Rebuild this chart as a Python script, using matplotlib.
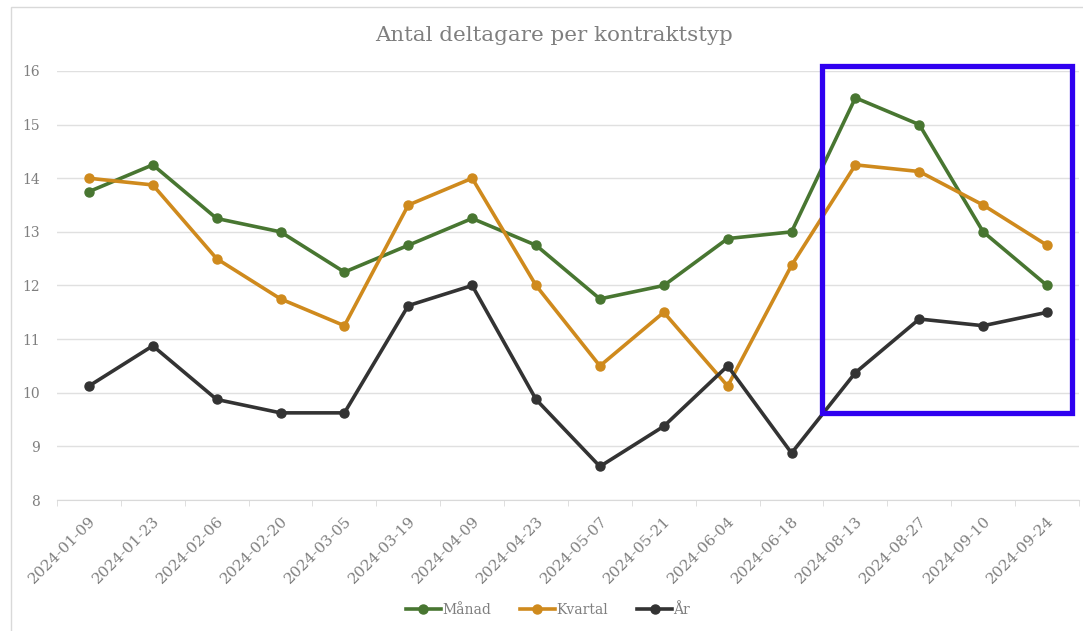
import matplotlib
matplotlib.use('Agg')
import matplotlib.pyplot as plt
from matplotlib.patches import Rectangle

# Data
dates = ['2024-01-09', '2024-01-23', '2024-02-06', '2024-02-20', '2024-03-05',
         '2024-03-19', '2024-04-09', '2024-04-23', '2024-05-07', '2024-05-21',
         '2024-06-04', '2024-06-18', '2024-08-13', '2024-08-27', '2024-09-10',
         '2024-09-24']
manad = [13.75, 14.25, 13.25, 13.0, 12.25, 12.75, 13.25, 12.75, 11.75, 12.0,
         12.875, 13.0, 15.5, 15.0, 13.0, 12.0]
kvartal = [14.0, 13.875, 12.5, 11.75, 11.25, 13.5, 14.0, 12.0, 10.5, 11.5,
           10.125, 12.375, 14.25, 14.125, 13.5, 12.75]
ar = [10.125, 10.875, 9.875, 9.625, 9.625, 11.625, 12.0, 9.875, 8.625, 9.375,
      10.5, 8.875, 10.375, 11.375, 11.25, 11.5]

font = 'DejaVu Serif'
txt_color = '#7f7f7f'

fig = plt.figure(figsize=(10.83, 6.31), dpi=100)
ax = fig.add_axes([0.0526, 0.2076, 0.9437, 0.6799])

x = list(range(len(dates)))
ax.plot(x, manad, color='#487631', lw=2.6, marker='o', ms=6.5, label='Månad')
ax.plot(x, kvartal, color='#cf8a1d', lw=2.6, marker='o', ms=6.5, label='Kvartal')
ax.plot(x, ar, color='#333333', lw=2.6, marker='o', ms=6.5, label='År')

ax.set_xlim(-0.5, len(dates) - 0.5)
ax.set_ylim(8, 16)
ax.set_yticks(range(8, 17))
ax.grid(axis='y', color='#e0e0e0', lw=1)
ax.set_axisbelow(True)
for s in ['top', 'right', 'left']:
    ax.spines[s].set_visible(False)
ax.spines['bottom'].set_color('#d9d9d9')

ax.set_xticks(x)
ax.set_xticklabels(dates, rotation=45, ha='right', rotation_mode='anchor',
                   fontsize=11, color=txt_color, family=font)
ax.tick_params(axis='x', length=0, pad=10)
ax.set_xticks([i - 0.5 for i in range(len(dates) + 1)], minor=True)
ax.tick_params(axis='x', which='minor', length=4, color='#d9d9d9')
ax.tick_params(axis='y', length=0, pad=12, labelsize=10, labelcolor=txt_color)
for lbl in ax.get_yticklabels():
    lbl.set_family(font)

fig.text(0.512, 0.943, 'Antal deltagare per kontraktstyp', ha='center', va='center',
         fontsize=15.4, color=txt_color, family=font)

leg = fig.legend(loc='center', bbox_to_anchor=(0.506, 0.034), ncol=3, frameon=False,
                 prop={'family': font, 'size': 10}, handlelength=2.5,
                 handletextpad=0.1, columnspacing=2.1)
for t in leg.get_texts():
    t.set_color(txt_color)

# highlight box
ax.add_patch(Rectangle((11.48, 9.62), 3.91, 6.48, fill=False, ec='#2f00f0',
                       lw=3.8, clip_on=False, zorder=5))

# outer chart border
fig.add_artist(Rectangle((0.0102, -0.05), 1.2, 1.039, transform=fig.transFigure,
                         fill=False, ec='#d9d9d9', lw=1))

fig.savefig('out.png', dpi=100)
